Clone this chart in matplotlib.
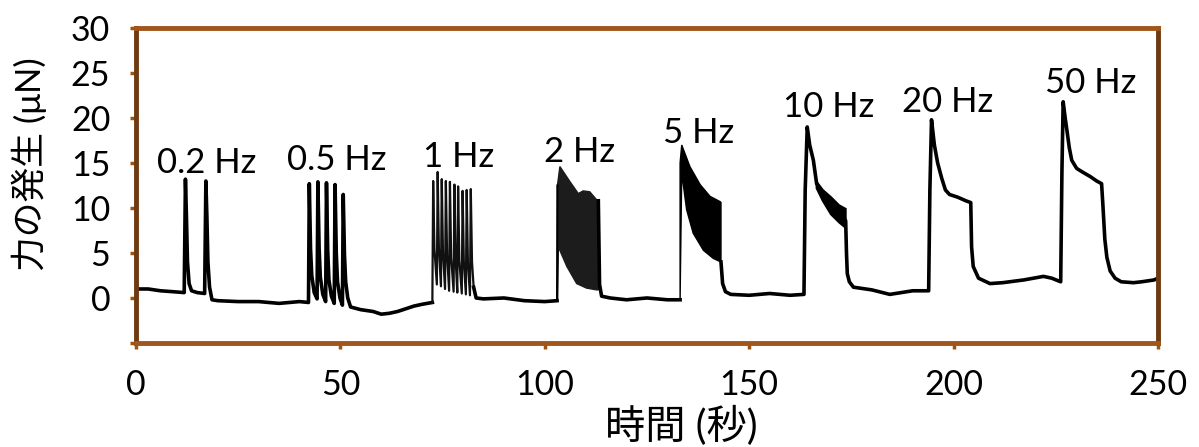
import numpy as np
import matplotlib
matplotlib.use('Agg')
import matplotlib.pyplot as plt

plt.rcParams['font.family'] = ['Lato', 'Noto Sans CJK JP', 'DejaVu Sans']

# force trace, key points (time s, force uN)
t_trace = [0, 3, 6, 9, 11.8, 12.1, 12.35, 12.6, 13.0, 13.6, 15.0, 16.8, 17.1, 17.35, 17.6, 18.0, 18.6,
           20, 25, 30, 35, 40, 42.2, 42.4, 42.7, 43.0, 43.6, 44.3, 44.5, 44.8, 45.1, 45.7, 46.4, 46.6,
           46.9, 47.2, 47.8, 48.5, 48.7, 49.0, 49.3, 49.9, 50.5, 50.7, 51.0, 51.3, 51.8, 52.5, 55, 58,
           60, 62, 64, 66, 68, 70, 72.5]
f_trace = [1.0, 1.0, 0.8, 0.7, 0.6, 13.2, 9.0, 4.0, 1.6, 0.8, 0.6, 0.5, 13.0, 9.0, 4.0, 1.2, -0.2,
           -0.3, -0.4, -0.4, -0.6, -0.4, -0.5, 12.7, 5.5, 2.5, 0.6, -0.1, 12.9, 5.5, 2.3, 0.4, -0.4, 12.8,
           5.3, 2.0, 0.2, -0.6, 12.6, 5.0, 1.8, 0.0, -0.8, 11.5, 4.8, 1.8, 0.0, -1.0, -1.3, -1.5,
           -1.8, -1.7, -1.5, -1.2, -0.9, -0.7, -0.5]

# 1 Hz train
t_1hz = [72.5, 72.7, 73.0, 73.6, 73.8, 74.1, 74.6, 74.8, 75.1, 75.6, 75.8, 76.1, 76.6, 76.8, 77.1, 77.7,
         77.9, 78.2, 78.6, 78.8, 79.1, 79.7, 79.9, 80.2, 80.7, 80.9, 81.2, 81.7, 81.9, 82.2, 82.6]
f_1hz = [-0.5, 13.0, 5.5, 1.5, 14.0, 5.5, 1.3, 13.2, 5.0, 1.0, 13.0, 4.8, 0.8, 12.9, 4.5, 0.7,
         12.6, 4.3, 0.6, 12.4, 4.2, 0.5, 11.9, 4.0, 0.4, 12.0, 3.9, 0.3, 12.1, 4.0, 1.2]

# 1 Hz -> 2 Hz
t_mid0 = [82.6, 83.2, 85, 90, 95, 100, 103.0]
f_mid0 = [1.2, 0.0, -0.1, 0.0, -0.3, -0.4, -0.3]

# 2 Hz train, envelope of the dense twitches
t_2hz_up = [103.1, 103.7, 106.2, 108.2, 109.4, 111.0, 112.7, 113.1]
f_2hz_up = [12.5, 14.6, 12.9, 11.6, 11.9, 11.8, 10.9, 10.8]
t_2hz_lo = [103.1, 103.3, 105.4, 107.8, 110.2, 112.7, 113.1]
f_2hz_lo = [-0.3, 5.7, 3.5, 1.6, 1.1, 0.9, 0.9]

# 2 Hz -> 5 Hz
t_mid1 = [113.1, 113.4, 113.9, 116, 120, 125, 130, 133.1]
f_mid1 = [10.8, 1.5, 0.2, 0.0, -0.2, 0.0, -0.2, -0.2]

# 5 Hz train
t_5hz_up = [133.1, 133.5, 135.5, 138.0, 140.4, 142.9, 143.1]
f_5hz_up = [15.0, 17.0, 14.6, 12.6, 11.3, 10.7, 10.6]
t_5hz_lo = [133.1, 133.5, 134.7, 136.3, 138.8, 141.2, 143.1]
f_5hz_lo = [-0.2, 13.9, 9.8, 7.2, 5.3, 4.4, 4.0]

# 5 Hz -> 10 Hz -> 20 Hz -> 50 Hz -> end
t_rest = [143.1, 143.5, 144.2, 145.5, 150, 155, 160, 163.4, 163.7, 164.2, 164.8, 165.7, 166.5,
          168, 170, 172, 173.6, 173.8, 174.0, 174.5, 175.5, 180, 184.4, 190, 193.9,
          194.2, 194.6, 195.3, 196.1, 197.1, 198.0, 199.0, 201.0, 203.0, 204.2, 204.4, 204.8,
          206.1, 208.9, 212, 217.1, 222.0, 224, 226.2,
          226.5, 226.8, 227.3, 227.7, 228.3, 228.9, 230.1, 231.5, 233.4, 235.0, 236.2, 236.5,
          237.0, 237.5, 238.3, 239.5, 241, 244, 246, 249, 250]
f_rest = [4.0, 1.6, 0.7, 0.4, 0.3, 0.5, 0.3, 0.4, 12.0, 19.0, 17.0, 15.3, 12.7,
          11.6, 10.3, 9.4, 8.6, 5.0, 2.7, 1.8, 1.2, 0.9, 0.4, 0.8, 0.8,
          12.0, 19.8, 17.0, 15.0, 13.3, 12.0, 11.5, 11.2, 10.8, 10.6, 5.7, 3.5,
          2.2, 1.6, 1.7, 2.0, 2.4, 2.2, 1.8,
          14.0, 21.8, 20.0, 18.7, 16.7, 15.3, 14.4, 14.0, 13.5, 13.0, 12.7, 10.5,
          6.5, 4.5, 3.0, 2.2, 1.8, 1.7, 1.8, 2.0, 2.2]

# 10 Hz noisy band
t_10hz_up = [166.5, 168, 170, 172, 173.6]
f_10hz_up = [12.9, 12.0, 11.2, 10.3, 9.9]
t_10hz_lo = [166.5, 168, 170, 172, 173.6]
f_10hz_lo = [12.2, 10.8, 9.3, 8.4, 7.8]

# stimulation labels
hz_labels = ['0.2 Hz', '0.5 Hz', '1 Hz', '2 Hz', '5 Hz', '10 Hz', '20 Hz', '50 Hz']
hz_x = [5.1, 36.9, 70.2, 99.8, 128.9, 158.3, 187.4, 222.4]
hz_y = [15.0, 15.3, 15.7, 16.2, 18.3, 21.2, 21.8, 23.9]

x_ticks = [0, 50, 100, 150, 200, 250]
y_ticks = [-5, 0, 5, 10, 15, 20, 25, 30]

fig = plt.figure(figsize=(11.99, 4.47), dpi=100)
ax = fig.add_axes([0.1134, 0.2327, 0.8524, 0.7047])

ax.plot(t_trace, f_trace, color='black', lw=2.6)
ax.plot(t_1hz, f_1hz, color='#111111', lw=1.6)
ax.plot(t_mid0, f_mid0, color='black', lw=2.6)
ax.plot(t_mid1, f_mid1, color='black', lw=2.6)
ax.plot(t_rest, f_rest, color='black', lw=2.6)
ax.plot([103.0, 103.1], [-0.3, 12.5], color='black', lw=1.5)

# dense trains drawn as filled envelopes
ax.fill(np.r_[t_2hz_up, t_2hz_lo[::-1]], np.r_[f_2hz_up, f_2hz_lo[::-1]], color='#1c1c1c', lw=1)
ax.fill(np.r_[t_5hz_up, t_5hz_lo[::-1]], np.r_[f_5hz_up, f_5hz_lo[::-1]], color='black', lw=1)
ax.fill(np.r_[t_10hz_up, t_10hz_lo[::-1]], np.r_[f_10hz_up, f_10hz_lo[::-1]], color='black', lw=1.5)

for txt, x, y in zip(hz_labels, hz_x, hz_y):
    ax.text(x, y, txt, fontsize=25, ha='left', va='center')

ax.set_xlim(0, 250)
ax.set_ylim(-5, 30)
ax.set_xticks(x_ticks)
ax.set_yticks(y_ticks)
ax.set_yticklabels([''] + [str(v) for v in y_ticks[1:]])
ax.tick_params(axis='both', labelsize=24.5, colors='#A0520F', labelcolor='black',
               length=4.5, width=2.5, direction='out')
ax.tick_params(axis='y', pad=14)
ax.tick_params(axis='x', pad=14)

for side in ['left', 'right']:
    ax.spines[side].set_color('#6E3A0F')
    ax.spines[side].set_linewidth(3.5)
for side in ['top', 'bottom']:
    ax.spines[side].set_color('#A0561C')
    ax.spines[side].set_linewidth(3.5)

ax.set_xlabel('時間 (秒)', fontsize=29, va='center')
ax.xaxis.set_label_coords(0.534, -0.263)
ax.set_ylabel('力の発生 (μN)', fontsize=25, va='center', ha='center')
ax.yaxis.set_label_coords(-0.1047, 0.568)

fig.savefig('out.png', dpi=100)
